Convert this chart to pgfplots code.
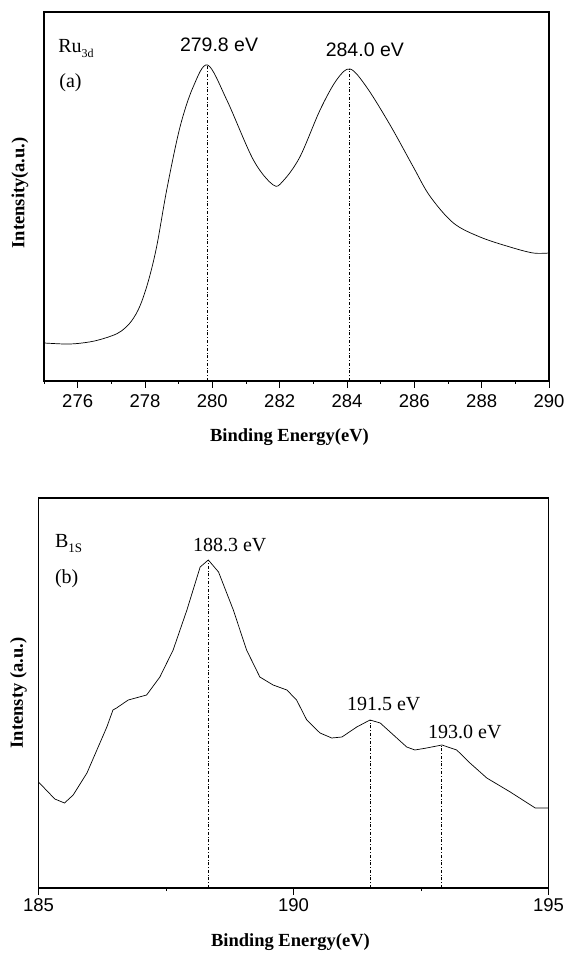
\documentclass[border=0pt]{standalone}
\usepackage{fontspec}
\setmainfont{Liberation Serif}
\newfontfamily\arial{Liberation Sans}
\usepackage{pgfplots}
\pgfplotsset{compat=1.18}

% spectra (intensity in arbitrary units)
\pgfplotstableread{
E I
275.0 38
275.6 37
276.0 37.5
276.5 40
277.0 45
277.3 50
277.6 60
277.85 75
278.1 100
278.35 135
278.65 192
279.04 254
279.43 294
279.86 316
280.43 281
281.22 221
281.81 196
282.1 200
282.60 224
283.20 271
283.69 301
284.09 312
284.58 294
285.28 256
285.97 214
286.46 185
287.16 158
287.95 144
288.84 134
289.53 128
290.0 128
}\rutable

\pgfplotstableread{
E I
185.00 106
185.32 89
185.51 85
185.68 93
185.95 115
186.34 161
186.46 178
186.53 180
186.76 188
187.12 193
187.38 211
187.64 238
187.91 278
188.17 321
188.33 328
188.53 316
188.82 278
189.08 238
189.34 211
189.60 203
189.87 198
190.06 188
190.26 168
190.52 155
190.75 150
190.95 151
191.24 161
191.50 168
191.70 165
191.96 153
192.22 141
192.38 138
192.61 140
192.91 143
193.20 138
193.46 125
193.79 110
194.25 96
194.74 80
194.96 80
195.00 80
}\btable

\newcommand\lblfont{\bfseries\fontsize{18.5}{18.5}\selectfont}
\newcommand\txtfont{\fontsize{20}{20}\selectfont}

\pgfplotsset{
  xps/.style={
    scale only axis,
    axis line style={line width=1.1pt},
    ytick=\empty,
    xtick pos=bottom,
    tick align=outside,
    major tick length=7pt,
    minor tick length=3pt,
    every tick/.style={black, line width=0.9pt},
    tick label style={font=\arial\fontsize{18.5}{18.5}\selectfont},
    /pgf/number format/assume math mode=true,
    clip=false,
  },
}

\begin{document}
\begin{tikzpicture}
\useasboundingbox (0,0) rectangle (564pt,953pt);

% (a) Ru 3d
\begin{axis}[xps,
  at={(44pt,572pt)}, anchor=south west,
  width=505pt, height=369pt,
  xmin=275, xmax=290, ymin=0, ymax=369,
  xtick={276,278,...,290}, minor xtick={275,277,...,289},
  xticklabel style={yshift=-3pt},
  xlabel={Binding Energy(eV)},
  xlabel style={at={(rel axis cs:0.5,0)}, anchor=center, font=\lblfont, xshift=-7pt, yshift=-56pt},
]
\addplot[black, line width=0.7pt, smooth, tension=0.55] table[x=E, y=I] {\rutable};
\addplot[black, line width=0.6pt, dash dot] coordinates {(279.84,0) (279.84,316)};
\addplot[black, line width=0.6pt, dash dot] coordinates {(284.07,0) (284.07,312)};
\node[font=\arial\fontsize{19.5}{19.5}\selectfont] at (axis cs:280.2,336) {279.8 eV};
\node[font=\arial\fontsize{19.5}{19.5}\selectfont] at (axis cs:284.53,331) {284.0 eV};
\node[anchor=base west, font=\txtfont, inner sep=0pt] at (axis cs:275.42,328)
  {Ru\raisebox{-5pt}{\fontsize{12}{12}\selectfont 3d}};
\node[anchor=west, font=\txtfont, inner sep=0pt] at (axis cs:275.45,298) {(a)};
\node[rotate=90, font=\lblfont] at ([xshift=-24pt]rel axis cs:0,0.51) {Intensity(a.u.)};
\end{axis}

% (b) B 1s
\begin{axis}[xps,
  at={(38.5pt,65pt)}, anchor=south west,
  width=510pt, height=390pt,
  xmin=185, xmax=195, ymin=0, ymax=390,
  xtick={185,190,195}, minor xtick={187.5,192.5},
  xlabel={Binding Energy(eV)},
  xlabel style={at={(rel axis cs:0.5,0)}, anchor=center, font=\lblfont, xshift=-3pt, yshift=-54pt},
]
\addplot[black, line width=0.7pt] table[x=E, y=I] {\btable};
\addplot[black, line width=0.6pt, dash dot] coordinates {(188.33,0) (188.33,328)};
\addplot[black, line width=0.6pt, dash dot] coordinates {(191.5,0) (191.5,168)};
\addplot[black, line width=0.6pt, dash dot] coordinates {(192.9,0) (192.9,143)};
\node[font=\txtfont] at (axis cs:188.75,343) {188.3 eV};
\node[font=\txtfont] at (axis cs:191.77,184) {191.5 eV};
\node[font=\txtfont] at (axis cs:193.36,156) {193.0 eV};
\node[anchor=base west, font=\txtfont, inner sep=0pt] at (axis cs:185.32,340)
  {B\raisebox{-5pt}{\fontsize{13}{13}\selectfont 1S}};
\node[anchor=west, font=\txtfont, inner sep=0pt] at (axis cs:185.32,309) {(b)};
\node[rotate=90, font=\lblfont] at ([xshift=-20pt]rel axis cs:0,0.5) {Intensty (a.u.)};
\end{axis}
\end{tikzpicture}
\end{document}
